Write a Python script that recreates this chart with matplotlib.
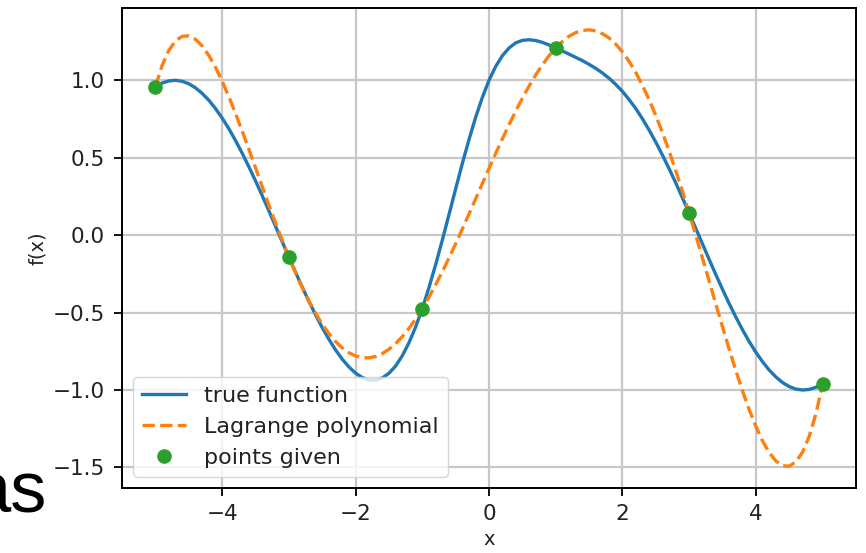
import matplotlib
matplotlib.use("Agg")
import matplotlib.pyplot as plt
import numpy as np

# sample grid for the curves, step 0.1
x_grid = np.linspace(-5, 5, 101)

true_vals = [0.959, 0.982, 0.996, 1.000, 0.994, 0.978, 0.952, 0.916, 0.872, 0.818,
             0.757, 0.688, 0.612, 0.530, 0.443, 0.351, 0.256, 0.158, 0.058, -0.042,
             -0.141, -0.239, -0.335, -0.427, -0.514, -0.597, -0.672, -0.741, -0.801, -0.851,
             -0.891, -0.919, -0.935, -0.936, -0.922, -0.892, -0.845, -0.779, -0.695, -0.593,
             -0.474, -0.338, -0.190, -0.032, 0.133, 0.299, 0.463, 0.618, 0.762, 0.890,
             1.000, 1.090, 1.159, 1.209, 1.242, 1.258, 1.262, 1.257, 1.245, 1.228,
             1.209, 1.189, 1.169, 1.148, 1.127, 1.103, 1.077, 1.047, 1.013, 0.973,
             0.928, 0.875, 0.817, 0.751, 0.678, 0.600, 0.516, 0.428, 0.336, 0.239,
             0.141, 0.042, -0.058, -0.158, -0.256, -0.351, -0.443, -0.530, -0.612, -0.688,
             -0.757, -0.818, -0.872, -0.916, -0.952, -0.978, -0.994, -1.000, -0.996, -0.982,
             -0.959]

lagrange_vals = [0.959, 1.095, 1.192, 1.254, 1.284, 1.287, 1.265, 1.223, 1.161, 1.085,
                 0.995, 0.895, 0.787, 0.673, 0.556, 0.436, 0.315, 0.196, 0.080, -0.033,
                 -0.141, -0.243, -0.338, -0.425, -0.504, -0.575, -0.635, -0.687, -0.728, -0.759,
                 -0.780, -0.791, -0.792, -0.784, -0.765, -0.737, -0.701, -0.655, -0.602, -0.541,
                 -0.474, -0.400, -0.320, -0.236, -0.147, -0.055, 0.040, 0.137, 0.235, 0.333,
                 0.431, 0.528, 0.622, 0.713, 0.801, 0.884, 0.963, 1.035, 1.100, 1.159,
                 1.209, 1.251, 1.285, 1.308, 1.322, 1.326, 1.319, 1.301, 1.273, 1.233,
                 1.183, 1.122, 1.050, 0.967, 0.874, 0.772, 0.661, 0.542, 0.414, 0.281,
                 0.141, -0.003, -0.150, -0.298, -0.447, -0.594, -0.738, -0.876, -1.007, -1.128,
                 -1.236, -1.330, -1.405, -1.459, -1.489, -1.492, -1.463, -1.400, -1.297, -1.152,
                 -0.959]

x_nodes = [-5, -3, -1, 1, 3, 5]
y_nodes = [0.959, -0.141, -0.474, 1.209, 0.141, -0.959]

plt.rcParams["font.size"] = 15

fig = plt.figure(figsize=(8.66, 5.53), dpi=100)
ax = fig.add_axes([0.1409, 0.1175, 0.8476, 0.868])

ax.plot(x_grid, true_vals, color="#1f77b4", lw=2.4, label="true function")
ax.plot(x_grid, lagrange_vals, "--", color="#ff7f0e", lw=2.4, label="Lagrange polynomial")
ax.plot(x_nodes, y_nodes, "o", color="#2ca02c", ms=9.5, label="points given")

ax.set_xlabel("x", fontsize=14, color="#222222")
ax.set_ylabel("f(x)", fontsize=14, color="#222222")
ax.grid(True, color="#c8c8c8", lw=1.6)
for s in ax.spines.values():
    s.set_linewidth(1.4)
ax.tick_params(length=5.5, width=1.3, labelsize=15.5, labelcolor="#222222")
ax.tick_params(axis="y", pad=7)
ax.tick_params(axis="x", pad=6)
ax.legend(loc="lower left", fontsize=16, handlelength=2.0, labelcolor="#222222")

# leftover word from the slide, clipped at the left edge
fig.text(0.0543, 0.074, "as", fontsize=52, ha="right", family="Liberation Sans")

fig.savefig("out.png", dpi=100)
